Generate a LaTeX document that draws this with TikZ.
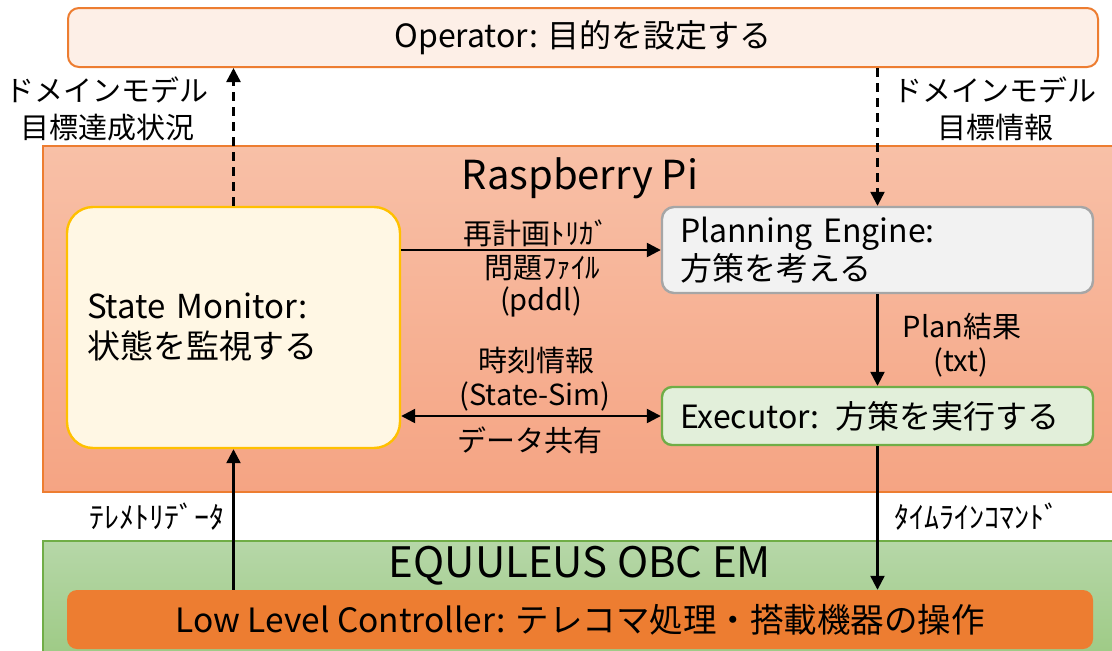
\documentclass[tikz,border=0pt]{standalone}
\usepackage{fontspec}
\setmainfont{Noto Sans CJK JP}
\usetikzlibrary{arrows.meta}
\definecolor{opfill}{HTML}{FDEFE7}
\definecolor{orng}{HTML}{ED7D31}
\definecolor{rpitop}{HTML}{F8C0A7}
\definecolor{rpibot}{HTML}{F5A483}
\definecolor{smfill}{HTML}{FFF7E4}
\definecolor{gold}{HTML}{FFC000}
\definecolor{pefill}{HTML}{F2F2F2}
\definecolor{pedraw}{HTML}{A6A6A6}
\definecolor{exfill}{HTML}{E2EFDA}
\definecolor{grn}{HTML}{70AD47}
\definecolor{obctop}{HTML}{B6D7A8}
\definecolor{obcbot}{HTML}{9DCA84}
\tikzset{
  bigtxt/.style={font=\fontsize{32}{40}\selectfont},
  lbltxt/.style={font=\fontsize{29}{37}\selectfont, align=center, inner sep=0pt},
  hwtxt/.style={font=\fontsize{30}{34}\selectfont, inner sep=0pt},
  conn/.style={line width=2.4pt, -{Triangle[length=14pt,width=14pt]}},
  dconn/.style={line width=2.4pt, dash pattern=on 9pt off 6pt, -{Triangle[length=14pt,width=14pt]}},
  bconn/.style={line width=2.4pt, {Triangle[length=14pt,width=14pt]}-{Triangle[length=14pt,width=14pt]}},
}
\begin{document}
\begin{tikzpicture}[x=1pt,y=-1pt]
\useasboundingbox (0,0) rectangle (1112,651);
\fill[white] (0,0) rectangle (1112,651);
% Raspberry Pi area
\shade[top color=rpitop, bottom color=rpibot, draw=orng, line width=1.2pt] (43,146) rectangle (1120,492);
\node[bigtxt, font=\fontsize{40}{48}\selectfont] (rpit) at (580,178) {Raspberry Pi};
% EQUULEUS area
\shade[top color=obctop, bottom color=obcbot, draw=grn, line width=1.2pt] (43,541) rectangle (1120,660);
\node[bigtxt, font=\fontsize{42}{48}\selectfont] (obct) at (580,566) {EQUULEUS OBC EM};
% Operator
\node[bigtxt, draw=orng, fill=opfill, line width=2pt, rounded corners=11pt, minimum width=1030pt, minimum height=59pt, inner sep=0pt] (op) at (583,37.5) {Operator: 目的を設定する};
% State Monitor
\node[bigtxt, font=\fontsize{33}{40}\selectfont, draw=gold, fill=smfill, line width=2.4pt, rounded corners=26pt, minimum width=333pt, minimum height=241pt, text width=293pt, align=left, inner sep=0pt] (sm) at (233.5,327.5) {State Monitor:\\状態を監視する};
% Planning Engine
\node[bigtxt, draw=pedraw, fill=pefill, line width=2.4pt, rounded corners=12pt, minimum width=431pt, minimum height=86pt, text width=395pt, align=left, inner sep=0pt, font=\fontsize{32}{38}\selectfont] (pe) at (877.5,250) {Planning Engine:\\方策を考える};
% Executor
\node[bigtxt, draw=grn, fill=exfill, line width=2.4pt, rounded corners=10pt, minimum width=431pt, minimum height=58pt, text width=395pt, align=left, inner sep=0pt] (ex) at (877.5,416) {Executor: 方策を実行する};
% Low Level Controller
\node[bigtxt, font=\fontsize{33.5}{40}\selectfont, fill=orng, rounded corners=10pt, minimum width=1026pt, minimum height=59pt, inner sep=0pt] (llc) at (580,619.5) {Low Level Controller: テレコマ処理・搭載機器の操作};
% connectors
\draw[dconn] (sm.north) -- (op.south -| sm.north);
\draw[dconn] (op.south -| pe.north) -- (pe.north);
\draw[conn] (sm.east |- pe.west) -- (pe.west);
\draw[bconn] (sm.east |- ex.west) -- (ex.west);
\draw[conn] (pe.south) -- (ex.north);
\draw[conn] (ex.south) -- (llc.north -| ex.south);
\draw[conn] (llc.north -| sm.south) -- (sm.south);
% labels
\node[lbltxt] (l1) at (107,109) {ドメインモデル\\目標達成状況};
\node[lbltxt] (l2) at (995,109) {ドメインモデル\\目標情報};
\node[lbltxt] (l3) at (536,233) {再計画ﾄﾘｶﾞ};
\node[lbltxt] (l4) at (542,268) {問題ﾌｧｲﾙ};
\node[lbltxt] (l5) at (541,302) {(pddl)};
\node[lbltxt] (l6) at (536,360) {時刻情報};
\node[lbltxt] (l7) at (535,396) {(State-Sim)};
\node[lbltxt] (l8) at (530,440) {データ共有};
\node[lbltxt] (l9) at (962,327) {Plan結果};
\node[lbltxt] (l10) at (961,362) {(txt)};
\node[hwtxt] (l11) at (157,517) {ﾃﾚﾒﾄﾘﾃﾞｰﾀ};
\node[hwtxt] (l12) at (977,517) {ﾀｲﾑﾗｲﾝｺﾏﾝﾄﾞ};
\end{tikzpicture}
\end{document}
